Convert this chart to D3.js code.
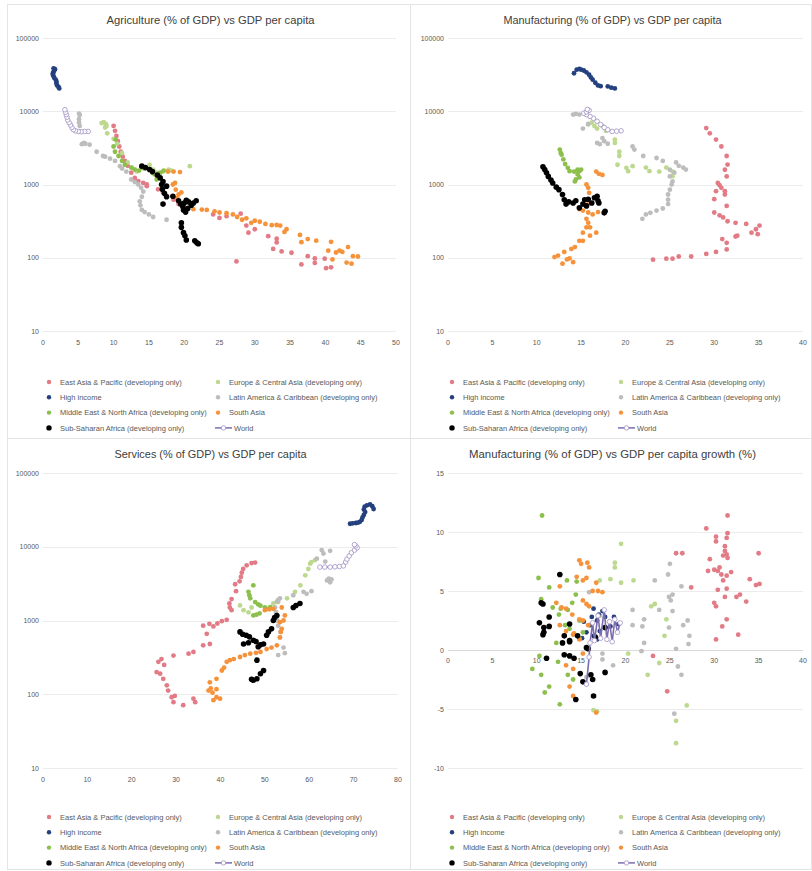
<!DOCTYPE html>
<html>
<head>
<meta charset="utf-8">
<script src="https://cdn.jsdelivr.net/npm/d3@7"></script>
<style>
  body { margin: 0; background: #fff; }
  svg { font-family: "Liberation Sans", Arial, sans-serif; }
</style>
</head>
<body>
<svg id="chart" width="812" height="871"></svg>
<script>
// --- series names / colours ---
const seriesNames = [
  "East Asia & Pacific (developing only)",
  "Europe & Central Asia (developing only)",
  "High income",
  "Latin America & Caribbean (developing only)",
  "Middle East & North Africa (developing only)",
  "South Asia",
  "Sub-Saharan Africa (developing only)",
  "World"
];
const seriesColors = ["#e27b85", "#bcd98f", "#24407f", "#bdbdbd", "#8cbf4c", "#f6923a", "#000000", "#7d6db0"];
const legendOrder = [0, 1, 2, 3, 4, 5, 6, 7];

// --- panel 1: agriculture share vs GDP per capita ---
const agriEAP = [[10.0,6300],[10.2,5400],[10.4,4600],[10.6,3900],[10.8,3300],[11.0,2800],[11.3,2400],[11.6,2100],[12.0,1800],[12.5,1450],[13.0,1230],[13.5,1110],[14.2,1050],[14.7,1000],[13.0,1170],[14.7,950],[16.3,860],[17.0,780],[17.5,700],[18.5,620],[19.2,540],[24.1,390],[25.0,350],[26.0,370],[27.4,89],[28.0,400],[28.8,275],[29.1,220],[30.0,245],[31.9,197],[33.1,182],[33.1,162],[32.6,132],[33.8,122],[35.2,117],[36.6,81],[37.5,105],[38.5,98],[38.5,85],[39.9,97],[40.1,72],[40.8,74]];
const agriECA = [[8.3,6900],[8.6,7100],[8.9,6700],[9.0,6300],[8.8,6000],[9.1,5000],[10.0,4200],[10.5,3600],[11.2,2700],[12.0,2000],[12.6,1700],[13.0,1600],[13.3,1500],[14.2,1650],[15.1,1850],[15.6,1600],[16.1,1450],[17.0,1500],[17.8,1600],[18.2,1550],[20.8,1780]];
const agriHI = [[2.3,20500],[2.2,21500],[2.0,22500],[1.9,24000],[1.9,25500],[1.8,27000],[1.6,28500],[1.5,30000],[1.4,31500],[1.4,33000],[1.5,34500],[1.6,36000],[1.7,37500],[1.5,38500]];
const agriLAC = [[17.5,330],[15.6,360],[15.0,390],[14.4,420],[14.0,450],[13.8,520],[13.7,590],[14.0,680],[14.2,800],[13.9,900],[13.5,1000],[13.0,1080],[12.5,1170],[11.8,1500],[11.2,1650],[10.9,1780],[10.2,2100],[9.5,2250],[8.8,2400],[8.5,2450],[7.6,2800],[6.6,3500],[6.0,3600],[5.5,3550],[5.8,3700],[5.2,6300],[5.1,7000],[5.1,7800],[5.2,8900],[5.1,9300]];
const agriMENA = [[10.3,4100],[10.0,3300],[10.2,2800],[10.7,2450],[11.2,2100],[11.6,1860],[12.5,1700],[13.0,1600],[13.6,1550],[14.0,1700],[15.5,1450],[15.8,1380],[16.1,1170],[16.6,1450],[17.1,1550],[16.2,1250]];
const agriSA = [[44.6,104],[43.9,105],[43.7,83],[43.0,86],[43.2,140],[42.4,120],[42.0,125],[41.5,118],[41.0,95],[40.8,165],[40.4,125],[38.7,171],[37.5,180],[36.6,163],[36.4,205],[34.5,245],[34.2,225],[33.6,275],[33.1,280],[32.4,278],[31.5,290],[30.7,310],[30.0,320],[29.5,300],[28.8,345],[28.2,330],[27.5,360],[26.9,390],[26.0,405],[25.0,415],[24.3,430],[23.2,450],[22.5,455],[21.3,460],[20.5,480],[19.8,520],[19.4,560],[19.0,650],[19.2,730],[18.8,850],[18.4,1000],[18.7,1050],[19.6,780],[17.7,1500],[18.5,1500],[19.4,1480]];
const agriSSA = [[14.0,1780],[14.5,1700],[15.1,1600],[15.5,1500],[16.2,1350],[16.6,1230],[17.0,1100],[16.8,1000],[17.5,950],[16.9,860],[17.2,760],[17.5,680],[17.0,540],[18.4,690],[19.2,600],[19.5,540],[19.8,500],[20.0,560],[20.3,610],[20.6,580],[21.0,520],[21.3,560],[21.7,600],[20.5,470],[19.9,450],[20.2,420],[19.6,300],[19.6,260],[19.9,220],[20.1,200],[20.3,175],[21.5,170],[21.8,160],[22.0,155]];
const agriWorld = [[6.4,5300],[5.9,5300],[5.4,5250],[5.0,5300],[4.6,5400],[4.3,5600],[4.1,6000],[3.9,6500],[3.7,7000],[3.5,7600],[3.4,8300],[3.3,9000],[3.2,9700],[3.1,10500]];

// --- panel 2: manufacturing share vs GDP per capita ---
const manuEAP = [[23.1,94],[24.6,97],[25.3,97],[26.0,104],[27.4,104],[29.1,113],[30.2,120],[31.4,130],[31.4,160],[30.9,180],[32.4,195],[32.6,200],[34.9,210],[34.2,220],[34.7,245],[35.1,275],[33.6,290],[32.4,300],[31.5,315],[31.0,355],[30.6,380],[30.0,415],[31.4,510],[30.0,630],[31.2,730],[30.2,810],[30.8,900],[30.4,1050],[31.2,1590],[31.4,1290],[31.5,1870],[31.4,2450],[30.8,3300],[30.2,4100],[29.5,5000],[29.1,5900],[31.2,810],[30.6,980]];
const manuECA = [[15.8,6600],[16.2,7000],[16.5,6300],[16.8,5800],[17.4,6300],[17.8,5400],[18.8,4100],[18.8,3700],[19.3,2800],[19.3,2450],[19.1,1860],[20.1,1690],[20.3,1520],[20.8,1780],[22.3,1700],[22.7,1520],[23.8,1500],[24.6,1700],[25.3,1500],[25.3,1300]];
const manuHI = [[18.8,20500],[18.4,21000],[18.0,21800],[17.2,22000],[16.9,22500],[16.6,24500],[16.3,27000],[16.1,29000],[15.9,31500],[15.6,34000],[15.3,36000],[15.0,37000],[14.8,38000],[14.5,37000],[14.2,33000]];
const manuLAC = [[21.9,340],[22.3,390],[22.8,410],[23.5,440],[24.2,470],[24.8,540],[24.8,620],[24.8,730],[25.0,850],[25.2,1000],[25.3,1100],[25.0,1290],[25.5,1450],[25.0,1590],[25.7,2000],[26.0,1800],[26.5,1700],[26.8,1600],[24.2,2100],[23.5,2300],[22.0,2450],[20.8,3300],[21.0,3000],[18.0,3600],[17.6,3900],[17.1,3550],[16.8,3700],[17.4,4300],[15.8,6700],[15.2,5800],[14.8,9000],[14.1,9000],[14.4,9200]];
const manuMENA = [[12.6,3000],[12.7,2700],[12.8,2550],[13.0,2200],[13.2,1900],[13.5,1690],[13.7,1520],[14.2,1500],[14.6,1590],[14.8,1520],[15.0,1600],[14.6,1380],[14.8,1250],[14.4,1170],[14.3,1100]];
const manuSA = [[12.0,102],[12.4,107],[12.9,83],[13.1,120],[13.4,95],[13.7,98],[13.9,132],[14.1,87],[14.3,140],[14.8,170],[15.2,170],[15.2,220],[15.6,260],[15.8,300],[15.6,340],[16.0,260],[16.0,200],[16.7,220],[14.8,460],[15.2,440],[15.8,415],[16.3,390],[16.9,420],[15.8,540],[15.9,770],[15.6,1000],[15.8,900],[16.7,1500],[17.0,1400],[17.4,1350]];
const manuSSA = [[10.7,1750],[10.9,1600],[11.1,1450],[11.3,1290],[11.6,1150],[11.8,1050],[12.2,920],[12.5,850],[12.9,730],[13.1,620],[13.3,540],[13.6,580],[14.1,560],[14.4,600],[14.8,480],[15.2,540],[15.4,620],[15.6,510],[15.8,630],[16.2,560],[16.5,660],[16.8,690],[16.9,600],[17.0,560],[17.6,410],[17.7,430]];
const manuWorld = [[19.5,5400],[19.0,5350],[18.5,5300],[18.0,5600],[17.6,6000],[17.2,6600],[16.8,7300],[16.4,8000],[16.0,8500],[15.6,9000],[15.3,9400],[15.6,9800],[15.9,10300],[15.7,10600]];

// --- panel 3: services share vs GDP per capita ---
const servEAP = [[31.6,71],[29.4,78],[29.0,91],[29.7,95],[28.2,112],[27.9,132],[27.1,162],[26.4,190],[25.6,200],[26.0,275],[26.7,300],[27.3,250],[29.4,335],[32.8,355],[33.9,375],[34.3,78],[33.9,87],[36.1,460],[37.6,480],[36.9,660],[36.1,850],[37.5,900],[38.4,830],[39.3,910],[40.3,980],[41.4,1020],[42.5,1380],[42.1,1500],[42.0,1700],[42.5,1950],[43.5,2500],[43.3,3100],[44.3,3400],[44.6,3900],[44.8,4450],[45.1,5000],[45.9,5600],[47.0,6000],[47.8,6100]];
const servECA = [[44.4,1600],[45.2,1380],[46.3,1290],[47.0,1500],[51.9,1700],[53.0,1780],[55.0,2000],[56.8,2450],[58.0,3000],[59.1,4100],[59.8,5000],[60.2,5900],[61.3,6600],[60.5,6200]];
const servHI = [[69.2,20500],[69.8,20800],[70.5,21000],[71.0,21300],[71.4,21800],[71.8,23000],[72.0,25000],[72.3,27000],[72.6,29500],[72.3,32000],[72.5,35000],[73.0,36500],[73.7,37500],[74.2,35500],[74.5,32500]];
const servLAC = [[53.0,340],[54.5,360],[54.2,430],[53.4,590],[53.5,700],[53.0,850],[52.8,1000],[52.5,1300],[52.3,1500],[52.7,1800],[53.4,2000],[53.0,1900],[56.4,2200],[58.7,2450],[59.4,2300],[60.5,2500],[61.7,6900],[63.6,6300],[62.8,9000],[63.2,8100],[64.7,8800],[64.4,3700],[64.7,3300],[64.0,3500],[65.0,3600]];
const servMENA = [[47.4,3000],[46.3,2450],[46.5,2200],[46.7,2000],[47.8,1780],[48.5,1650],[49.0,1590],[50.0,1500],[50.4,1440],[51.2,1520],[47.4,1170],[48.1,1200],[48.8,1250]];
const servSA = [[37.3,112],[37.6,145],[37.8,120],[38.2,105],[38.4,83],[39.1,91],[39.1,117],[39.9,87],[39.1,162],[40.3,210],[40.8,230],[41.4,275],[42.1,290],[43.0,300],[44.4,320],[45.5,340],[46.7,355],[48.0,365],[49.0,375],[50.4,410],[51.5,430],[52.7,460],[53.4,590],[53.6,700],[53.8,770],[54.2,1000],[54.5,1170],[53.4,950],[50.0,1380],[51.0,1420],[51.9,1440],[53.8,1500]];
const servSSA = [[44.4,700],[45.0,650],[45.8,630],[46.5,600],[47.4,540],[48.0,520],[45.2,480],[46.3,500],[48.5,440],[49.0,470],[49.7,480],[50.4,630],[50.8,700],[51.5,770],[51.9,1000],[52.2,1100],[52.7,1170],[56.4,1500],[57.0,1600],[57.9,1700],[48.2,290],[49.7,210],[49.0,190],[48.2,162],[47.4,155],[47.0,160]];
const servWorld = [[62.4,5300],[63.5,5300],[64.7,5300],[65.8,5350],[66.8,5400],[67.7,5500],[68.2,6200],[68.5,6800],[69.0,7500],[69.5,8300],[70.2,9000],[70.8,9700],[70.5,10300],[70.2,10700]];

// --- panel 4: manufacturing share vs GDP per capita growth ---
const growEAP = [[29.1,10.3],[31.5,11.4],[31.5,9.9],[31.4,9.5],[30.2,9.6],[30.2,9.2],[31.2,8.8],[31.2,8.4],[31.4,8.1],[31.5,7.8],[31.0,8.0],[29.5,7.7],[35.0,8.2],[29.3,6.7],[30.0,6.8],[30.6,7.0],[30.4,6.7],[30.8,6.4],[31.9,6.6],[31.4,6.3],[31.0,5.9],[34.0,6.0],[34.7,5.5],[35.1,5.6],[27.4,5.3],[30.4,5.1],[31.4,5.2],[32.9,4.7],[32.5,4.5],[31.2,4.5],[33.6,4.1],[30.0,4.0],[30.2,3.7],[31.4,2.6],[30.9,2.0],[32.7,1.3],[30.2,0.9],[23.1,-0.5],[24.7,-3.5],[25.7,8.2],[26.4,8.2]];
const growECA = [[19.5,9.0],[18.8,7.4],[18.8,7.0],[18.3,6.0],[20.9,5.9],[19.5,5.7],[17.1,5.9],[23.3,3.9],[22.9,3.7],[17.1,2.9],[24.6,2.6],[24.4,1.2],[20.3,-0.3],[22.5,-2.1],[23.8,-1.1],[16.4,-5.1],[25.7,-6.0],[25.7,-7.9],[26.9,-4.7],[16.8,-5.2]];
const growHI = [[15.3,2.4],[15.6,1.5],[16.0,2.1],[16.2,2.8],[16.4,1.2],[16.8,2.5],[16.8,0.9],[17.1,1.6],[17.4,3.3],[17.7,2.8],[18.3,2.0],[18.7,2.8],[19.2,2.2],[15.1,1.0],[17.0,3.0],[16.4,3.5]];
const growLAC = [[25.0,7.3],[24.8,6.4],[23.3,5.9],[26.3,5.4],[25.3,4.7],[24.9,4.5],[25.1,4.2],[20.8,3.4],[23.8,3.4],[25.3,3.3],[22.1,2.6],[24.9,1.9],[26.5,2.1],[27.0,2.5],[27.2,1.2],[20.8,2.1],[21.9,2.0],[15.9,4.9],[22.1,0.6],[21.8,-0.1],[25.7,0.1],[25.9,-1.4],[26.3,-2.1],[27.1,0.5],[18.6,-1.3],[17.4,-0.8],[17.4,-0.3],[25.5,-5.4],[15.6,-2.3]];
const growMENA = [[10.6,11.4],[10.2,6.1],[11.4,5.3],[10.5,4.3],[13.4,5.9],[14.5,5.8],[11.8,3.6],[12.7,3.5],[14.4,4.7],[14.0,4.0],[13.5,3.4],[13.2,2.1],[13.7,1.8],[14.8,2.5],[12.5,3.0],[15.2,1.5],[12.2,0.6],[10.3,-0.5],[9.5,-1.6],[10.5,-2.1],[12.4,-1.0],[11.4,-3.1],[10.9,-3.6],[12.6,-4.6],[13.5,-2.1],[14.1,-2.5],[14.8,1.0]];
const growSA = [[14.8,7.6],[15.0,7.3],[15.7,7.4],[15.9,7.0],[15.6,6.1],[15.2,5.9],[14.5,6.2],[16.7,5.7],[16.3,5.0],[16.9,5.0],[17.4,4.9],[12.6,5.4],[12.2,4.0],[12.8,3.6],[13.3,3.5],[14.0,3.0],[15.2,4.2],[15.6,3.9],[15.9,3.7],[15.2,2.5],[14.8,2.6],[15.8,2.1],[12.6,2.1],[13.3,1.6],[14.2,1.4],[14.8,0.9],[14.1,1.3],[15.2,-0.3],[13.3,-1.3],[14.1,-1.6],[13.7,-3.1],[14.1,-3.9],[16.7,-5.3]];
const growSSA = [[12.6,6.4],[10.5,4.0],[10.7,3.9],[11.4,2.8],[10.3,2.3],[10.8,1.9],[10.8,1.5],[13.7,2.2],[13.1,1.2],[13.7,0.8],[14.6,1.2],[15.6,0.2],[16.6,1.1],[17.7,1.9],[11.1,-0.7],[13.1,-0.4],[13.7,-0.5],[14.2,-0.7],[14.9,-2.0],[15.2,-2.7],[16.1,-2.1],[16.3,-2.5],[17.7,-1.9],[14.4,-4.2],[16.4,-3.9],[12.9,0.6],[13.7,0.7],[10.7,1.3],[11.4,2.0],[15.8,0.1]];
const growWorld = [[15.6,-2.9],[15.9,-0.6],[16.0,0.6],[16.3,2.3],[16.5,0.8],[16.9,2.9],[17.2,1.0],[17.6,3.4],[17.9,0.9],[18.2,2.4],[18.5,0.7],[18.8,2.6],[19.1,1.5],[19.4,2.3]];

// --- ticks ---
const logTicks = [10, 100, 1000, 10000, 100000];
const growTicks = [-10, -5, 0, 5, 10, 15];
const xTicksAgri = d3.range(0, 51, 5);
const xTicksManu = d3.range(0, 41, 5);
const xTicksServ = d3.range(0, 81, 10);

const panels = [
  { title: "Agriculture (% of GDP) vs GDP per capita", titleW: 208,
    box: [7, 4, 410, 438], left: 43, right: 396, top: 38, bottom: 331, xDomain: [0, 50], xTicks: xTicksAgri,
    log: true, legendY: 382, data: [agriEAP, agriECA, agriHI, agriLAC, agriMENA, agriSA, agriSSA, agriWorld] },
  { title: "Manufacturing (% of GDP) vs GDP per capita", titleW: 218,
    box: [410, 4, 811, 438], left: 448, right: 803, top: 38, bottom: 331, xDomain: [0, 40], xTicks: xTicksManu,
    log: true, legendY: 382, data: [manuEAP, manuECA, manuHI, manuLAC, manuMENA, manuSA, manuSSA, manuWorld] },
  { title: "Services (% of GDP) vs GDP per capita", titleW: 192,
    box: [7, 438, 410, 869], left: 43, right: 398, top: 473, bottom: 768, xDomain: [0, 80], xTicks: xTicksServ,
    log: true, legendY: 817, data: [servEAP, servECA, servHI, servLAC, servMENA, servSA, servSSA, servWorld] },
  { title: "Manufacturing (% of GDP) vs GDP per capita growth (%)", titleW: 287,
    box: [410, 438, 811, 869], left: 448, right: 803, top: 473, bottom: 768, xDomain: [0, 40], xTicks: xTicksManu,
    log: false, legendY: 817, data: [growEAP, growECA, growHI, growLAC, growMENA, growSA, growSSA, growWorld] }
];

const svg = d3.select("#chart");

function drawPanel(p) {
  const g = svg.append("g");
  const [bx0, by0, bx1, by1] = p.box;
  g.append("rect").attr("x", bx0 + 0.5).attr("y", by0 + 0.5)
    .attr("width", bx1 - bx0).attr("height", by1 - by0)
    .attr("fill", "none").attr("stroke", "#e4e4e4");

  const x = d3.scaleLinear().domain(p.xDomain).range([p.left, p.right]);
  const y = p.log
    ? d3.scaleLog().domain([10, 100000]).range([p.bottom, p.top])
    : d3.scaleLinear().domain([-10, 15]).range([p.bottom, p.top]);
  const yTicks = p.log ? logTicks : growTicks;

  // title
  g.append("text").attr("x", (bx0 + bx1) / 2 + 2).attr("y", by0 + 20)
    .attr("text-anchor", "middle").attr("font-size", 11.5).attr("fill", "#404040")
    .attr("textLength", p.titleW).attr("lengthAdjust", "spacingAndGlyphs")
    .text(p.title);

  // gridlines + y labels
  g.selectAll("line.grid").data(yTicks).join("line").attr("class", "grid")
    .attr("x1", p.left).attr("x2", p.right)
    .attr("y1", d => Math.round(y(d)) + 0.5).attr("y2", d => Math.round(y(d)) + 0.5)
    .attr("stroke", d => (!p.log && d === 0) ? "#dadada" : "#ececec").attr("stroke-width", 1);
  g.selectAll("text.ylab").data(yTicks).join("text").attr("class", "ylab")
    .attr("x", p.left - 4).attr("y", d => y(d) + 2.5)
    .attr("text-anchor", "end").attr("font-size", 7).attr("fill", "#595959")
    .text(d => d);

  // x labels (below the 0 line for the growth panel)
  const xLabY = p.log ? p.bottom + 14 : y(0) + 13;
  g.selectAll("text.xlab").data(p.xTicks).join("text").attr("class", "xlab")
    .attr("x", d => x(d)).attr("y", xLabY)
    .attr("text-anchor", "middle").attr("font-size", 7).attr("fill", "#595959")
    .text(d => d);

  // series
  p.data.forEach((pts, i) => {
    const col = seriesColors[i];
    if (i === 7) {
      g.append("path").datum(pts)
        .attr("d", d3.line().x(d => x(d[0])).y(d => y(d[1])))
        .attr("fill", "none").attr("stroke", col).attr("stroke-width", 1.6);
      g.selectAll("circle.w").data(pts).join("circle").attr("class", "w")
        .attr("cx", d => x(d[0])).attr("cy", d => y(d[1])).attr("r", 2.3)
        .attr("fill", "#fff").attr("stroke", "#a99cc8").attr("stroke-width", 0.9);
    } else {
      g.append("g").selectAll("circle").data(pts).join("circle")
        .attr("cx", d => x(d[0])).attr("cy", d => y(d[1]))
        .attr("r", i === 6 ? 2.8 : 2.4)
        .attr("fill", col);
    }
  });

  // legend
  const cols = [bx0 + 42, bx0 + 211];
  legendOrder.forEach((si, k) => {
    const cx = cols[k % 2];
    const ly = p.legendY + Math.floor(k / 2) * 15.3;
    if (si === 7) {
      g.append("line").attr("x1", cx - 3).attr("x2", cx + 14).attr("y1", ly).attr("y2", ly)
        .attr("stroke", seriesColors[si]).attr("stroke-width", 1.5);
      g.append("circle").attr("cx", cx + 5.5).attr("cy", ly).attr("r", 2.2)
        .attr("fill", "#fff").attr("stroke", "#a99cc8").attr("stroke-width", 0.9);
    } else {
      g.append("circle").attr("cx", cx).attr("cy", ly).attr("r", si === 6 ? 2.7 : 2.2)
        .attr("fill", seriesColors[si]);
    }
    g.append("text").attr("x", cx + (si === 7 ? 16 : 11)).attr("y", ly + 2.7)
      .attr("font-size", 7.5).attr("fill", "#595959")
      .text(seriesNames[si]);
  });
}

panels.forEach(drawPanel);
</script>
</body>
</html>
